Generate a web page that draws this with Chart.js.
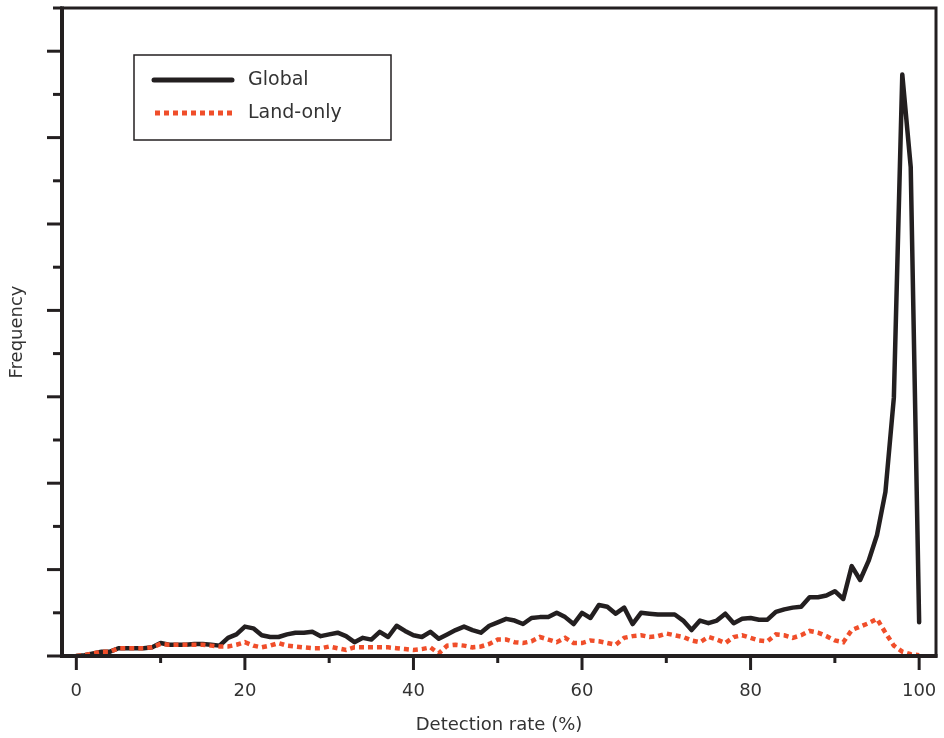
<!DOCTYPE html>
<html>
<head>
<meta charset="utf-8">
<script src="https://cdn.jsdelivr.net/npm/chart.js@4.4.1/dist/chart.umd.min.js"></script>
<style>
    html, body { margin: 0; padding: 0; background: #fff; }
    #wrap { width: 944px; height: 738px; }
</style>
</head>
<body>
<div id="wrap"><canvas id="freq_chart"></canvas></div>
<script>
// detection rate (%) on the x axis
const detectionRate = [
    0, 1, 2, 3, 4, 5, 6, 7, 8, 9, 10, 11, 12, 13, 14, 15, 16, 17, 18, 19,
    20, 21, 22, 23, 24, 25, 26, 27, 28, 29, 30, 31, 32, 33, 34, 35, 36, 37, 38, 39,
    40, 41, 42, 43, 44, 45, 46, 47, 48, 49, 50, 51, 52, 53, 54, 55, 56, 57, 58, 59,
    60, 61, 62, 63, 64, 65, 66, 67, 68, 69, 70, 71, 72, 73, 74, 75, 76, 77, 78, 79,
    80, 81, 82, 83, 84, 85, 86, 87, 88, 89, 90, 91, 92, 93, 94, 95, 96, 97, 98, 99, 100
];

const globalFreq = [
    0, 1, 3, 5, 5, 9, 9, 9, 9, 10, 15, 13, 13, 13, 14, 14, 13, 12, 21, 25,
    34, 32, 24, 22, 22, 25, 27, 27, 28, 23, 25, 27, 23, 16, 21, 19, 28, 22, 35, 29,
    24, 22, 28, 20, 25, 30, 34, 30, 27, 35, 39, 43, 41, 37, 44, 45, 45, 50, 45, 37,
    50, 44, 59, 57, 49, 56, 37, 50, 49, 48, 48, 48, 41, 30, 41, 38, 41, 49, 38, 43,
    44, 42, 42, 51, 54, 56, 57, 68, 68, 70, 75, 66, 104, 88, 110, 140, 190, 299, 673, 566, 39
];

const landFreq = [
    0, 1, 3, 5, 5, 9, 9, 9, 9, 10, 14, 13, 13, 13, 13, 13, 12, 11, 11, 13,
    16, 12, 10, 12, 15, 12, 11, 10, 9, 9, 11, 9, 7, 10, 10, 10, 10, 10, 9, 8,
    7, 8, 10, 3, 12, 13, 12, 10, 11, 14, 19, 19, 16, 15, 17, 22, 19, 16, 21, 15,
    15, 18, 17, 15, 13, 21, 23, 24, 22, 23, 26, 24, 22, 18, 16, 22, 19, 15, 22, 24,
    21, 18, 17, 25, 24, 21, 24, 29, 27, 23, 18, 16, 30, 34, 38, 43, 27, 12, 5, 2, 1
];

const xMajorTicks = [0, 20, 40, 60, 80, 100];
const xMinorTicks = [10, 30, 50, 70, 90];
const yMajorTicks = [0, 100, 200, 300, 400, 500, 600, 700];
const yMinorTicks = [50, 150, 250, 350, 450, 550, 650, 750];

const seriesNames = ["Global", "Land-only"];
const BLACK = "#231f20";
const ORANGE = "#f04e2a";
const FONT = "'DejaVu Sans', sans-serif";

function toPoints(ys) {
    return detectionRate.map((x, i) => ({ x: x, y: ys[i] }));
}

// frame, tick marks and legend box are drawn by hand
const framePlugin = {
    id: "frame",
    afterDraw(chart) {
        const c = chart.ctx;
        const a = chart.chartArea;
        const xs = chart.scales.x;
        const ys = chart.scales.y;
        c.save();
        c.strokeStyle = BLACK;
        c.lineCap = "butt";

        // ticks
        c.lineWidth = 3;
        xMajorTicks.forEach((v) => {
            const px = xs.getPixelForValue(v);
            c.beginPath(); c.moveTo(px, a.bottom); c.lineTo(px, a.bottom + 14); c.stroke();
        });
        xMinorTicks.forEach((v) => {
            const px = xs.getPixelForValue(v);
            c.beginPath(); c.moveTo(px, a.bottom); c.lineTo(px, a.bottom + 7); c.stroke();
        });
        yMajorTicks.forEach((v) => {
            const py = ys.getPixelForValue(v);
            c.beginPath(); c.moveTo(a.left, py); c.lineTo(a.left - 15, py); c.stroke();
        });
        yMinorTicks.forEach((v) => {
            const py = ys.getPixelForValue(v);
            c.beginPath(); c.moveTo(a.left, py); c.lineTo(a.left - 9, py); c.stroke();
        });

        // plot frame
        c.lineWidth = 3;
        c.strokeRect(a.left, a.top, a.right - a.left, a.bottom - a.top);
        c.lineWidth = 4;
        c.beginPath();
        c.moveTo(a.left, a.top - 1.5);
        c.lineTo(a.left, a.bottom);
        c.lineTo(a.right + 1.5, a.bottom);
        c.stroke();

        // legend
        const lx = a.left + 72, ly = a.top + 47;
        c.lineWidth = 1.5;
        c.strokeStyle = BLACK;
        c.strokeRect(lx, ly, 257, 85);
        c.lineWidth = 5;
        c.lineCap = "round";
        c.beginPath(); c.moveTo(lx + 20, ly + 25); c.lineTo(lx + 98, ly + 25); c.stroke();
        c.lineCap = "butt";
        c.strokeStyle = ORANGE;
        c.setLineDash([5, 4]);
        c.beginPath(); c.moveTo(lx + 21, ly + 58); c.lineTo(lx + 98, ly + 58); c.stroke();
        c.setLineDash([]);
        c.fillStyle = "#333";
        c.font = "19px " + FONT;
        c.textBaseline = "middle";
        c.fillText(seriesNames[0], lx + 114, ly + 25);
        c.fillText(seriesNames[1], lx + 114, ly + 58);
        c.restore();
    }
};

new Chart(document.getElementById("freq_chart"), {
    type: "line",
    data: {
        datasets: [
            {
                label: seriesNames[0],
                data: toPoints(globalFreq),
                borderColor: BLACK,
                borderWidth: 4.5,
                borderJoinStyle: "round",
                borderCapStyle: "round",
                pointRadius: 0,
                tension: 0,
                order: 1,
            },
            {
                label: seriesNames[1],
                data: toPoints(landFreq),
                borderColor: ORANGE,
                borderWidth: 4.5,
                borderDash: [5, 4],
                borderCapStyle: "butt",
                pointRadius: 0,
                tension: 0,
                order: 0,
            }
        ]
    },
    options: {
        animation: false,
        responsive: true,
        maintainAspectRatio: false,
        layout: { padding: { top: 8, right: 8, left: 0, bottom: 0 } },
        plugins: {
            legend: { display: false },
            tooltip: { enabled: false }
        },
        scales: {
            x: {
                type: "linear",
                min: -1.7,
                max: 102,
                afterBuildTicks: (scale) => {
                    scale.ticks = xMajorTicks.map((v) => ({ value: v }));
                },
                grid: { display: false, drawTicks: false },
                border: { display: false },
                ticks: {
                    color: "#333",
                    font: { family: FONT, size: 18 },
                    padding: 25,
                    maxRotation: 0,
                },
                title: {
                    display: true,
                    text: "Detection rate (%)",
                    color: "#333",
                    font: { family: FONT, size: 18 },
                    padding: { top: 4, bottom: 2 },
                },
                afterFit: (scale) => {
                    scale.height = 82;
                    scale.paddingLeft = 0;
                    scale.paddingRight = 0;
                }
            },
            y: {
                min: 0,
                max: 750,
                grid: { display: false, drawTicks: false },
                border: { display: false },
                ticks: { display: false },
                title: {
                    display: true,
                    text: "Frequency",
                    color: "#333",
                    font: { family: FONT, size: 18 },
                    padding: { top: 7, bottom: 4 },
                },
                afterFit: (scale) => { scale.width = 62; }
            }
        }
    },
    plugins: [framePlugin]
});
</script>
</body>
</html>
